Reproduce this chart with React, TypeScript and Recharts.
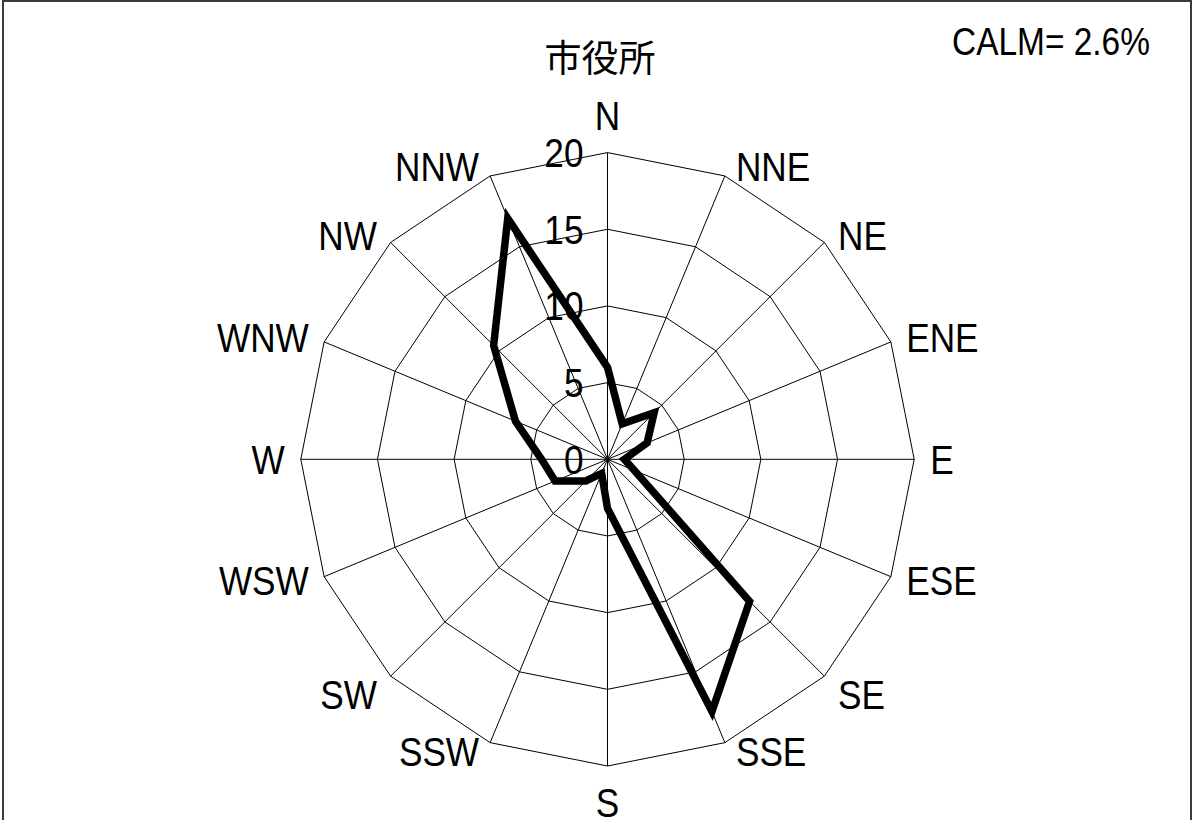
import { RadarChart, Radar, PolarGrid, PolarAngleAxis, PolarRadiusAxis } from 'recharts';

const directions = ['N', 'NNE', 'NE', 'ENE', 'E', 'ESE', 'SE', 'SSE', 'S', 'SSW', 'SW', 'WSW', 'W', 'WNW', 'NW', 'NNW'];
const frequency = [6.0, 2.5, 4.3, 2.8, 1.1, 1.9, 13.1, 17.8, 3.2, 1.0, 2.0, 3.7, 4.3, 6.5, 10.5, 17.0];
const radiusTicks = [0, 5, 10, 15, 20];
const stationName = '市役所';
const calmPercent = 2.6;

const data = directions.map((dir, i) => ({ dir, value: frequency[i] }));

const FONT = '"Liberation Sans", Arial, sans-serif';
const FS = 40;
// labels in the original look a bit squeezed sideways
const SX = 0.88;

function AngleTick(props: any) {
  const { payload } = props;
  const rad = (payload.coordinate * Math.PI) / 180;
  const c = Math.cos(rad);
  const s = Math.sin(rad);
  // recharts puts the tick 8px outside the outer ring, pull it back onto the vertex
  const x = props.x - 8 * c;
  const y = props.y + 8 * s;
  let tx = x;
  let mid: number;
  let anchor: 'start' | 'middle' | 'end';
  if (Math.abs(c) < 0.1) {
    anchor = 'middle';
    mid = y - 37 * s;
  } else {
    anchor = c > 0 ? 'start' : 'end';
    tx = x + Math.sign(c) * (8 + 8 * Math.abs(c));
    mid = y - 10 * s;
    // SE / SW sit below their corner in the original
    if (s < -0.6 && s > -0.8) mid += 11;
  }
  return (
    <text
      transform={`translate(${tx},${mid + 0.358 * FS}) scale(${SX},1)`}
      textAnchor={anchor}
      fontFamily={FONT}
      fontSize={FS}
      fill="#000"
    >
      {payload.value}
    </text>
  );
}

function RadiusTick(props: any) {
  const { x, y, payload } = props;
  return (
    <text
      transform={`translate(${x - 24},${y + 0.358 * FS}) scale(${SX},1)`}
      textAnchor="end"
      fontFamily={FONT}
      fontSize={FS}
      fill="#000"
    >
      {payload.value}
    </text>
  );
}

export default function App() {
  return (
    <div style={{ position: 'absolute', left: 0, top: 0, width: 1193, height: 820, overflow: 'hidden', background: '#fff' }}>
      <div
        style={{
          position: 'absolute',
          left: 2,
          top: 0,
          width: 1186,
          height: 860,
          border: '2px solid #3a3a3a',
        }}
      />
      <div style={{ position: 'absolute', left: 0, top: 0 }}>
        <RadarChart
          width={1193}
          height={820}
          data={data}
          cx={607.5}
          cy={459.3}
          outerRadius={306.7}
          margin={{ top: 0, right: 0, bottom: 0, left: 0 }}
        >
          <PolarGrid gridType="polygon" stroke="#000" strokeWidth={1} />
          <PolarAngleAxis dataKey="dir" tick={AngleTick} tickLine={false} axisLine={false} />
          <PolarRadiusAxis
            angle={90}
            type="number"
            domain={[0, 20]}
            ticks={radiusTicks}
            tickCount={radiusTicks.length}
            tick={RadiusTick}
            axisLine={false}
            tickLine={false}
          />
          <Radar
            dataKey="value"
            stroke="#000"
            strokeWidth={7.5}
            fill="none"
            fillOpacity={0}
            dot={false}
            isAnimationActive={false}
          />
        </RadarChart>
      </div>
      <svg width={1193} height={820} style={{ position: 'absolute', left: 0, top: 0, pointerEvents: 'none' }}>
        <text x={600} y={72} textAnchor="middle" fontFamily='"Noto Sans CJK JP", sans-serif' fontSize={37} fill="#000">
          {stationName}
        </text>
        <text
          transform={`translate(952,55) scale(${SX},1)`}
          textAnchor="start"
          fontFamily={FONT}
          fontSize={38}
          fill="#000"
        >
          {`CALM= ${calmPercent}%`}
        </text>
      </svg>
    </div>
  );
}
